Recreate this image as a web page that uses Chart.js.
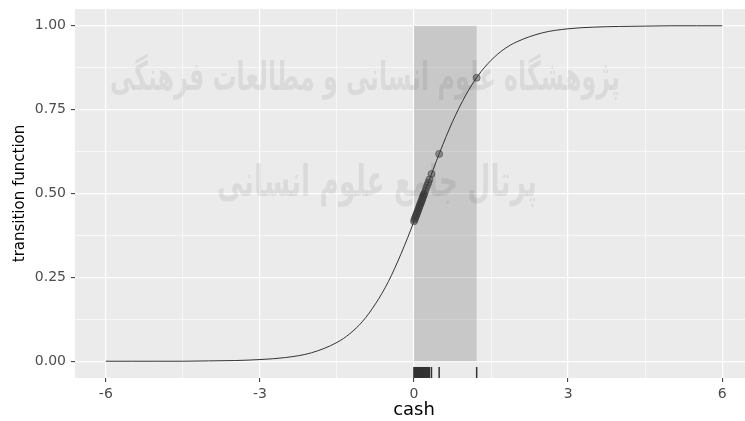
<!DOCTYPE html>
<html>
<head>
<meta charset="utf-8">
<script src="https://cdn.jsdelivr.net/npm/chart.js@4.4.0/dist/chart.umd.min.js"></script>
<style>
  html, body { margin: 0; padding: 0; background: #fff; overflow: hidden; }
  #wrap { position: absolute; left: 0; top: 0; width: 760px; height: 421px; }
</style>
</head>
<body>
<div id="wrap"><canvas id="transChart" width="760" height="421"></canvas></div>
<script>
// logistic transition curve
const curveX = [-6, -5.5, -5, -4.5, -4, -3.5, -3, -2.5, -2, -1.5, -1.25, -1, -0.75, -0.5, -0.25,
                0, 0.25, 0.5, 0.75, 1, 1.25, 1.5, 1.75, 2, 2.5, 3, 3.5, 4, 4.5, 5, 5.5, 6];
const curveY = [0.000, 0.000, 0.000, 0.000, 0.001, 0.002, 0.005, 0.011, 0.025, 0.056, 0.082, 0.119, 0.171, 0.237, 0.321,
                0.417, 0.521, 0.622, 0.714, 0.791, 0.852, 0.897, 0.930, 0.952, 0.979, 0.991, 0.996, 0.998, 0.999, 1.000, 1.000, 1.000];

// observed cash values and their transition values
const cash = [0.00, 0.01, 0.02, 0.03, 0.04, 0.05, 0.06, 0.07, 0.08, 0.09, 0.10, 0.11, 0.12, 0.13, 0.14,
              0.15, 0.16, 0.17, 0.18, 0.19, 0.20, 0.22, 0.24, 0.26, 0.28, 0.30, 0.34, 0.49, 1.22];
const fitted = [0.417, 0.422, 0.426, 0.430, 0.434, 0.438, 0.442, 0.446, 0.450, 0.454, 0.459, 0.463, 0.467, 0.471, 0.475,
                0.479, 0.483, 0.488, 0.492, 0.496, 0.500, 0.508, 0.517, 0.525, 0.533, 0.542, 0.558, 0.618, 0.845];

// shaded range of observed cash
const bandX = [0, 1.22];
const bandY = [0, 1];

// ticks (majors labelled, minors only gridlines)
const xTicks = [-6, -4.5, -3, -1.5, 0, 1.5, 3, 4.5, 6];
const xMajor = [-6, -3, 0, 3, 6];
const yTicks = [0, 0.125, 0.25, 0.375, 0.5, 0.625, 0.75, 0.875, 1];
const yMajor = [0, 0.25, 0.5, 0.75, 1];

const watermark = ['پژوهشگاه علوم انسانی و مطالعات فرهنگی', 'پرتال جامع علوم انسانی'];

const yMin = -0.05, yMax = 1.05;
const rugY = yMin + 0.0165;

const panelPlugin = {
    id: 'panel',
    beforeDraw(chart) {
        const {ctx, chartArea: a} = chart;
        ctx.save();
        ctx.fillStyle = '#ebebeb';
        ctx.fillRect(a.left, a.top, a.right - a.left, a.bottom - a.top);
        ctx.restore();
    },
    beforeDatasetsDraw(chart) {
        const {ctx, scales: {x, y}} = chart;
        const x0 = x.getPixelForValue(bandX[0]), x1 = x.getPixelForValue(bandX[1]);
        const y0 = y.getPixelForValue(bandY[1]), y1 = y.getPixelForValue(bandY[0]);
        ctx.save();
        ctx.fillStyle = 'rgba(0,0,0,0.15)';
        ctx.fillRect(x0, y0, x1 - x0, y1 - y0);
        ctx.restore();
    },
    afterDraw(chart) {
        // faint scanned watermark
        const {ctx} = chart;
        ctx.save();
        ctx.fillStyle = 'rgba(0,0,0,0.07)';
        ctx.textAlign = 'center';
        ctx.textBaseline = 'middle';
        ctx.direction = 'rtl';
        ctx.font = 'bold 40px "DejaVu Sans"';
        ctx.fillText(watermark[0], 365, 80, 510);
        ctx.font = 'bold 44px "DejaVu Sans"';
        ctx.fillText(watermark[1], 377, 185, 320);
        ctx.restore();
    }
};

const ctx = document.getElementById('transChart').getContext('2d');
const myChart = new Chart(ctx, {
    type: 'scatter',
    data: {
        datasets: [{
            data: curveX.map((v, i) => ({x: v, y: curveY[i]})),
            showLine: true,
            borderColor: '#333333',
            borderWidth: 1,
            pointRadius: 0,
            cubicInterpolationMode: 'monotone',
            order: 3
        }, {
            data: cash.map((v, i) => ({x: v, y: fitted[i]})),
            pointRadius: 3.5,
            backgroundColor: 'rgba(60,60,60,0.45)',
            borderColor: 'rgba(60,60,60,0.55)',
            borderWidth: 1,
            order: 2
        }, {
            data: cash.map(v => ({x: v, y: rugY})),
            pointStyle: 'line',
            rotation: 90,
            pointRadius: 5.5,
            borderColor: '#333333',
            borderWidth: 1.5,
            order: 1
        }]
    },
    options: {
        responsive: false,
        animation: false,
        devicePixelRatio: 1,
        layout: { padding: {top: 9, right: 6, left: 0, bottom: 0} },
        plugins: { legend: {display: false}, tooltip: {enabled: false} },
        scales: {
            x: {
                type: 'linear',
                min: -6.6,
                max: 6.6,
                afterBuildTicks: s => { s.ticks = xTicks.map(v => ({value: v})); },
                afterFit: s => { s.height = 43; s.paddingLeft = 0; s.paddingRight = 0; },
                border: {display: false},
                grid: {
                    color: '#ffffff',
                    lineWidth: c => xMajor.includes(c.tick.value) ? 1.2 : 0.6,
                    tickColor: c => xMajor.includes(c.tick.value) ? '#333333' : 'rgba(0,0,0,0)',
                    tickLength: 4,
                    tickWidth: 1
                },
                ticks: {
                    autoSkip: false,
                    maxRotation: 0,
                    padding: 4,
                    color: '#4d4d4d',
                    font: {family: 'DejaVu Sans', size: 14},
                    callback: v => xMajor.includes(v) ? String(v) : ''
                },
                title: {
                    display: true,
                    text: 'cash',
                    color: '#000000',
                    font: {family: 'DejaVu Sans', size: 18},
                    padding: {top: 0, bottom: 0}
                }
            },
            y: {
                type: 'linear',
                min: yMin,
                max: yMax,
                afterBuildTicks: s => { s.ticks = yTicks.map(v => ({value: v})); },
                afterFit: s => { s.width = 75; s.paddingTop = 0; s.paddingBottom = 0; },
                border: {display: false},
                grid: {
                    color: '#ffffff',
                    lineWidth: c => yMajor.includes(c.tick.value) ? 1.2 : 0.6,
                    tickColor: c => yMajor.includes(c.tick.value) ? '#333333' : 'rgba(0,0,0,0)',
                    tickLength: 4,
                    tickWidth: 1
                },
                ticks: {
                    autoSkip: false,
                    padding: 5,
                    color: '#4d4d4d',
                    font: {family: 'DejaVu Sans', size: 14},
                    callback: v => yMajor.includes(v) ? v.toFixed(2) : ''
                },
                title: {
                    display: true,
                    text: 'transition function',
                    color: '#000000',
                    font: {family: 'DejaVu Sans', size: 15},
                    padding: {top: 11, bottom: 0}
                }
            }
        }
    },
    plugins: [panelPlugin]
});
</script>
</body>
</html>
